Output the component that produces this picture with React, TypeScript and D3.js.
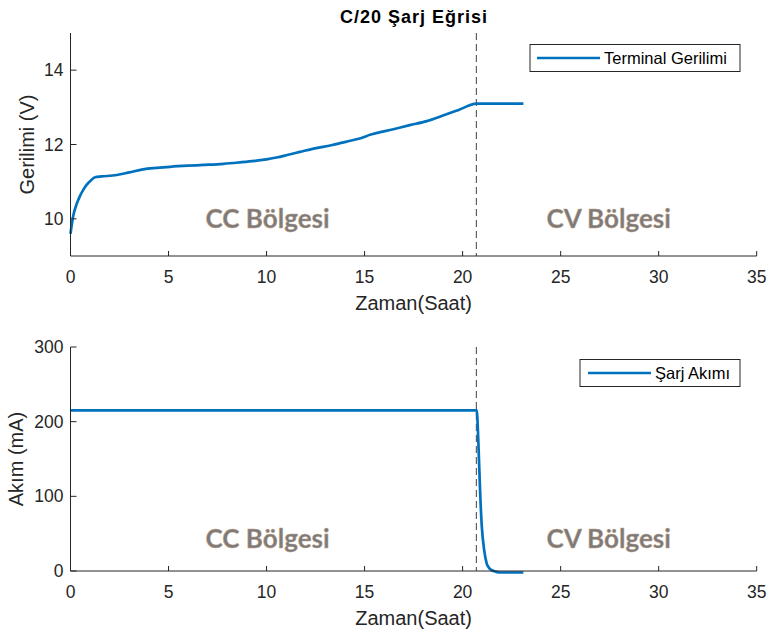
import React from "react";
import * as d3 from "d3";

const voltT = [0, 0.14, 0.3, 0.48, 0.65, 0.83, 1.05, 1.25, 1.6, 2.36, 3.0, 3.7, 4.4, 5.08, 6.0, 6.78, 7.8, 8.65, 9.4, 10.0, 10.5, 11.0, 11.7, 12.4, 13.3, 14.26, 14.8, 15.28, 16.47, 17.3, 18.17, 19.0, 19.8, 20.7, 21.5, 22.3, 23.1];
const voltV = [9.6, 10.08, 10.38, 10.61, 10.78, 10.92, 11.04, 11.12, 11.14, 11.18, 11.25, 11.33, 11.37, 11.4, 11.43, 11.45, 11.48, 11.52, 11.56, 11.6, 11.65, 11.71, 11.8, 11.89, 11.98, 12.1, 12.17, 12.26, 12.41, 12.52, 12.63, 12.78, 12.93, 13.1, 13.1, 13.1, 13.1];

const currT = [0, 5, 10, 15, 20, 20.72, 20.8, 20.89, 20.98, 21.1, 21.23, 21.35, 21.49, 21.7, 21.9, 22.5, 23.1];
const currI = [215, 215, 215, 215, 215, 215, 175, 108, 59, 28, 10, 4, 1, -1, -2, -2, -2];

const xTicks = [0, 5, 10, 15, 20, 25, 30, 35];
const vTicks = [10, 12, 14];
const iTicks = [0, 100, 200, 300];
const switchTime = 20.7;
const ccLabelT = 10.05;
const cvLabelT = 27.45;

const W = 768;
const H = 635;
const left = 70.5;
const right = 756.7;
const axisColor = "#262626";
const lineColor = "#0072BD";
const font = "'Liberation Sans', Arial, sans-serif";
const regionFont = "Lato, 'Open Sans', sans-serif";

function Panel({ top, bottom, yDomain, yTicks, tData, yData, yLabel, yLabelX, legend, legendBox, regionOffset }: any) {
  const x = d3.scaleLinear().domain([0, 35]).range([left, right]);
  const y = d3.scaleLinear().domain(yDomain).range([bottom, top]);
  const line = d3.line<number>().x((_, i) => x(tData[i])).y((d) => y(d)).curve(d3.curveMonotoneX);
  const midX = (left + right) / 2;
  const regionY = bottom - regionOffset;
  return (
    <g>
      <line x1={x(switchTime)} x2={x(switchTime)} y1={top} y2={bottom} stroke="#404040" strokeWidth={1} strokeDasharray="7,4" />
      <text x={x(ccLabelT)} y={regionY} textAnchor="middle" fontFamily={regionFont} fontWeight="bold" fontSize={26} fill="#7b7b7b" stroke="#c9a27f" strokeWidth={0.4}>CC Bölgesi</text>
      <text x={x(cvLabelT)} y={regionY} textAnchor="middle" fontFamily={regionFont} fontWeight="bold" fontSize={26} fill="#7b7b7b" stroke="#c9a27f" strokeWidth={0.4}>CV Bölgesi</text>
      <path d={line(yData) || ""} fill="none" stroke={lineColor} strokeWidth={2.7} />
      <line x1={left} x2={left} y1={top} y2={bottom} stroke={axisColor} strokeWidth={1} />
      <line x1={left} x2={right} y1={bottom} y2={bottom} stroke={axisColor} strokeWidth={1} />
      {xTicks.map((t) => (
        <g key={"x" + t}>
          <line x1={x(t)} x2={x(t)} y1={bottom} y2={bottom - 5} stroke={axisColor} />
          <text x={x(t)} y={bottom + 27} textAnchor="middle" fontFamily={font} fontSize={17.5} fill={axisColor}>{t}</text>
        </g>
      ))}
      {yTicks.map((t: number) => (
        <g key={"y" + t}>
          <line x1={left} x2={left + 6} y1={y(t)} y2={y(t)} stroke={axisColor} />
          <text x={left - 7} y={y(t) + 6} textAnchor="end" fontFamily={font} fontSize={17.5} fill={axisColor}>{t}</text>
        </g>
      ))}
      <text x={midX} y={bottom + 54} textAnchor="middle" fontFamily={font} fontSize={20} fill={axisColor}>Zaman(Saat)</text>
      <text transform={`translate(${yLabelX},${(top + bottom) / 2}) rotate(-90)`} textAnchor="middle" fontFamily={font} fontSize={20} fill={axisColor}>{yLabel}</text>
      <rect x={legendBox[0]} y={legendBox[1]} width={legendBox[2]} height={legendBox[3]} fill="white" stroke={axisColor} strokeWidth={1} />
      <line x1={legendBox[0] + legendBox[4]} x2={legendBox[0] + legendBox[4] + 63} y1={legendBox[1] + legendBox[3] / 2} y2={legendBox[1] + legendBox[3] / 2} stroke={lineColor} strokeWidth={2.7} />
      <text x={legendBox[0] + legendBox[4] + 67} y={legendBox[1] + legendBox[3] / 2 + 6} fontFamily={font} fontSize={16.5} fill="#000">{legend}</text>
    </g>
  );
}

export default function App() {
  return (
    <svg width={W} height={H} style={{ position: "absolute", left: 0, top: 0, background: "white" }}>
      <rect width={W} height={H} fill="white" />
      <text x={414} y={23.3} textAnchor="middle" fontFamily={font} fontWeight="bold" fontSize={18} letterSpacing={1} fill="#000">C/20 Şarj Eğrisi</text>
      <Panel top={33} bottom={256} yDomain={[9, 15]} yTicks={vTicks} tData={voltT} yData={voltV} yLabel="Gerilimi (V)" yLabelX={34} legend="Terminal Gerilimi" legendBox={[530, 44.5, 210, 27, 7]} regionOffset={28} />
      <Panel top={347} bottom={571} yDomain={[0, 300]} yTicks={iTicks} tData={currT} yData={currI} yLabel="Akım (mA)" yLabelX={23} legend="Şarj Akımı" legendBox={[580, 359.5, 160, 27, 8]} regionOffset={23} />
    </svg>
  );
}
